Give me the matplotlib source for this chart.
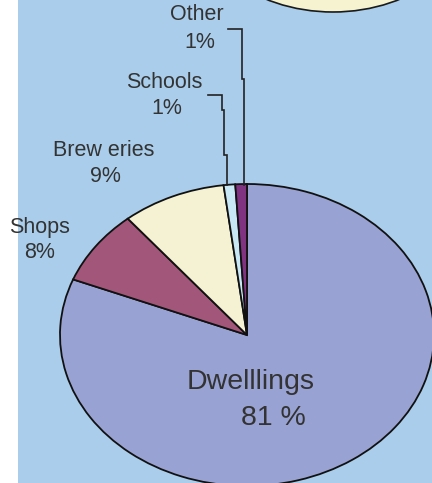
import matplotlib
matplotlib.use("Agg")
import matplotlib.pyplot as plt
from matplotlib.patches import Rectangle, Ellipse

# Land-use shares (percent)
categories = ["Dwellings", "Shops", "Breweries", "Schools", "Other"]
shares = [81, 8, 9, 1, 1]
label_names = ["Dwelllings", "Shops", "Brew eries", "Schools", "Other"]
label_values = ["81 %", "8%", "9%", "1%", "1%"]
colors = ["#99a3d3", "#a2577a", "#f4f2d2", "#c9e8f6", "#7f3380"]

W, H = 432, 483
BG = "#a9cdea"
TXT = "#333333"

fig = plt.figure(figsize=(W / 100, H / 100), dpi=100, facecolor="white")

# Background layer in pixel coordinates
bg = fig.add_axes([0, 0, 1, 1], zorder=0)
bg.set_xlim(0, W)
bg.set_ylim(H, 0)
bg.axis("off")
bg.add_patch(Rectangle((18, 0), W - 18, H, facecolor=BG, edgecolor="none"))
bg.add_patch(Ellipse((333, -108), 298, 240, facecolor="#f5f3d0",
                     edgecolor="#1a1a1a", linewidth=1.2))

# Elliptical pie: unit circle stretched to rx x ry pixels
cx, cy, rx, ry = 247, 335, 187, 151
pie_ax = fig.add_axes([0, 0, 1, 1], zorder=1)
pie_ax.patch.set_alpha(0)
pie_ax.pie(shares, colors=colors, startangle=90, counterclock=False,
           radius=1, wedgeprops=dict(edgecolor="#111111", linewidth=1.3))
pie_ax.set_aspect("auto")
pie_ax.set_xlim(-cx / rx, (W - cx) / rx)
pie_ax.set_ylim(-(H - cy) / ry, cy / ry)
pie_ax.axis("off")

# Labels and leader lines in pixel coordinates
top = fig.add_axes([0, 0, 1, 1], zorder=2)
top.patch.set_alpha(0)
top.set_xlim(0, W)
top.set_ylim(H, 0)
top.axis("off")

font = "Liberation Sans"
small = 15.5
label_pos = {
    "Dwellings": ((251, 382), (273, 418), 20.5),
    "Shops": ((39, 227), (40, 253), small),
    "Breweries": ((104, 150), (105, 176), small),
    "Schools": ((164, 82), (167, 109), small),
    "Other": ((197, 15), (200, 42), small),
}
for cat, name, val in zip(categories, label_names, label_values):
    (nx, ny), (vx, vy), fs = label_pos[cat]
    top.text(nx, ny, name, ha="center", va="center", fontsize=fs,
             family=font, color=TXT)
    top.text(vx, vy, val, ha="center", va="center", fontsize=fs,
             family=font, color=TXT)

leader_other = ([228, 242, 242, 244, 244], [29, 29, 79, 79, 185])
leader_schools = ([208, 222, 222, 224, 224, 227, 227], [95, 95, 110, 110, 155, 155, 185])
for xs, ys in (leader_other, leader_schools):
    top.plot(xs, ys, color="#222222", linewidth=1.2, solid_joinstyle="miter")

fig.savefig("out.png", dpi=100, facecolor="white")
